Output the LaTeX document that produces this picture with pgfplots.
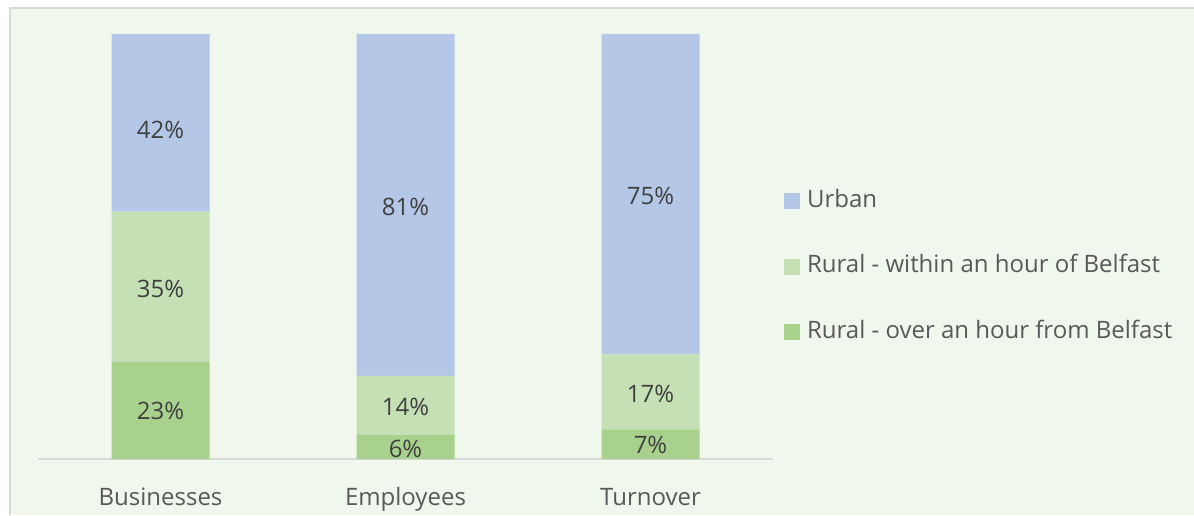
\documentclass[border=0pt]{standalone}
\usepackage{fontspec}
\setmainfont{Open Sans}
\usepackage{pgfplots}
\pgfplotsset{compat=1.18}
\usepackage{pgfplotstable}
\definecolor{bg}{RGB}{240,247,236}
\definecolor{urban}{RGB}{180,199,231}
\definecolor{within}{RGB}{197,224,180}
\definecolor{over}{RGB}{169,209,142}
\definecolor{txt}{RGB}{89,89,89}
\definecolor{lbl}{RGB}{64,64,64}
\definecolor{bord}{RGB}{217,217,217}

% segment values (percent)
\pgfplotstableread{
x over within urban
0 22.8 35.4 41.8
1 5.65 13.9 80.45
2 7.0 17.6 75.4
}\datatable

% label positions and rounded labels
\pgfplotstableread{
x y lab
0 11.3 23
0 40.0 35
0 77.4 42
1 2.4 6
1 12.2 14
1 59.3 81
2 3.3 7
2 15.3 17
2 61.9 75
}\labeltable

\begin{document}
\begin{tikzpicture}[x=1pt,y=1pt]
\useasboundingbox (0,0) rectangle (1194,515);
\fill[white] (0,0) rectangle (1194,515);
\fill[bg] (10,0) rectangle (1194,507);
\draw[bord, line width=1.5pt] (10,0) -- (10,507) -- (1194,507);

\begin{axis}[
  at={(38pt,56pt)}, anchor=south west,
  scale only axis, width=735pt, height=425pt,
  xmin=-0.5, xmax=2.5, ymin=0, ymax=100,
  ybar stacked, bar width=98pt,
  axis x line=bottom, axis y line=none,
  x axis line style={bord, line width=1.5pt, -},
  xtick={0,1,2}, xticklabels={Businesses,Employees,Turnover},
  major tick length=0pt,
  xticklabel style={font=\fontsize{24}{28}\selectfont, text=txt, anchor=base, yshift=-46pt},
  legend style={at={(rel axis cs:1.015,0.452)}, anchor=west, draw=none, fill=none,
    inner sep=0pt, outer sep=0pt, row sep=43.5pt,
    font=\fontsize{24}{28}\selectfont, text=txt,
    nodes={inner sep=0pt, text height=17pt, text depth=5pt},
    /tikz/every odd column/.append style={column sep=7pt}},
  legend cell align=left,
  reverse legend,
  legend image code/.code={\fill[#1] (0pt,-8pt) rectangle (16pt,8pt);},
]
\addplot[fill=over, draw=none] table[x=x, y=over] {\datatable};
\addlegendentry{Rural - over an hour from Belfast}
\addplot[fill=within, draw=none] table[x=x, y=within] {\datatable};
\addlegendentry{Rural - within an hour of Belfast}
\addplot[fill=urban, draw=none] table[x=x, y=urban] {\datatable};
\addlegendentry{Urban}
\end{axis}

\begin{axis}[
  at={(38pt,56pt)}, anchor=south west,
  scale only axis, width=735pt, height=425pt,
  xmin=-0.5, xmax=2.5, ymin=0, ymax=100,
  axis lines=none, clip=false,
]
\addplot[draw=none, mark=none, only marks,
  nodes near coords={\pgfplotspointmeta\%},
  point meta=explicit symbolic,
  every node near coord/.style={anchor=center, font=\fontsize{24}{28}\selectfont, text=lbl, inner sep=0pt},
] table[x=x, y=y, meta=lab] {\labeltable};
\end{axis}
\end{tikzpicture}
\end{document}
